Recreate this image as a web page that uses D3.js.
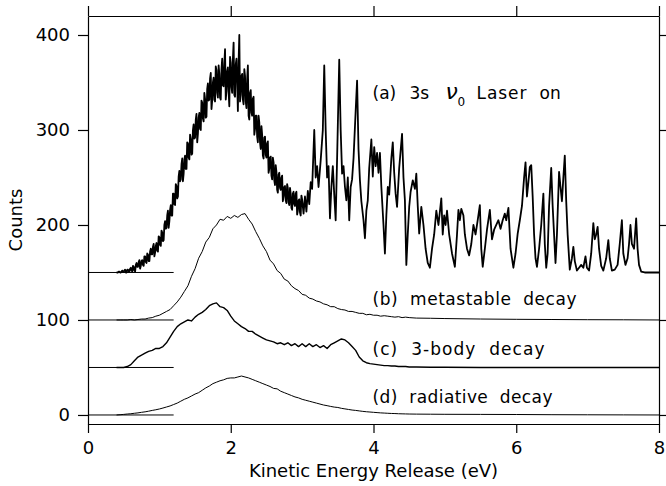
<!DOCTYPE html>
<html lang="en">
<head>
<meta charset="UTF-8" />
<script src="https://d3js.org/d3.v7.min.js"></script>
<style>
  body { margin: 0; background: #fff; }
  svg text { font-family: "DejaVu Sans", sans-serif; fill: #000; }
</style>
<title>Kinetic Energy Release</title>
</head>
<body>
<svg id="ker"></svg>
<script>
// ---- data ----
const xTicks = [0, 2, 4, 6, 8];
const yTicks = [0, 100, 200, 300, 400];

// offsets of the four traces
const offsets = { a: 150, b: 100, c: 50, d: 0 };
const baseEnd = 1.2; // short reference baseline drawn under each trace

// (a) noisy rise, 0.01 eV bins from 0.40 to 2.99 (even / odd bins)
const aBandStart = 0.40, aBandStep = 0.02;
const aBandEven = [
  150,150,151,150,152,151,153,150,153,151,
  155,151,156,151,160,156,163,157,163,157,
  167,160,169,162,175,169,180,171,181,172,
  187,178,192,184,204,197,215,204,221,210,
  233,221,241,230,257,248,270,254,273,259,
  286,269,291,275,306,292,317,296,318,300,
  329,309,333,314,349,332,360,331,355,330,
  363,334,359,332,375,346,385,341,366,325,
  371,339,392,335,375,320,400,337,359,327,
  357,323,368,311,342,315,335,301,315,287,
  308,280,295,270,293,271,288,259,272,248,
  266,242,256,234,255,237,252,230,241,223,
  239,221,233,216,235,220,235,215,227,210
];
const aBandOdd = [
  150,151,150,151,151,152,150,153,151,154,
  152,157,152,158,156,161,154,162,158,167,
  161,170,162,172,169,177,167,178,173,188,
  179,194,183,200,196,210,197,216,210,233,
  222,243,228,251,246,264,246,269,259,287,
  271,295,274,300,291,311,287,313,301,331,
  312,339,313,343,331,354,322,350,332,367,
  339,368,334,364,347,370,332,362,340,377,
  345,375,337,369,350,372,330,357,332,364,
  330,354,315,339,318,333,295,315,293,315,
  287,304,273,292,274,286,255,271,252,271,
  247,263,237,253,239,250,225,240,226,243,
  224,239,218,233,222,233,211,226,213,231
];
// (a) resolved structure above 3 eV
const aPeakEnergy = [
  3.00,3.02,3.04,3.06,3.08,3.10,3.12,3.14,3.17,3.19,3.21,3.23,3.26,3.29,3.31,3.33,3.35,3.37,3.39,3.41,
  3.43,3.45,3.47,3.49,3.52,3.54,3.56,3.58,3.60,3.62,3.64,3.66,3.68,3.70,3.72,3.75,3.77,3.79,3.81,3.83,
  3.86,3.88,3.90,3.92,3.94,3.97,3.99,4.01,4.03,4.05,4.07,4.09,4.11,4.14,4.16,4.18,4.20,4.22,4.25,4.27,
  4.29,4.31,4.33,4.36,4.40,4.42,4.44,4.46,4.48,4.50,4.52,4.55,4.58,4.60,4.62,4.64,4.67,4.70,4.73,4.76,
  4.79,4.82,4.85,4.88,4.91,4.95,4.97,4.99,5.01,5.03,5.06,5.10,5.14,5.17,5.19,5.21,5.23,5.26,5.28,5.31,
  5.34,5.37,5.40,5.43,5.46,5.49,5.51,5.53,5.56,5.59,5.63,5.66,5.69,5.72,5.75,5.78,5.81,5.84,5.86,5.89,
  5.92,5.96,5.99,6.02,6.05,6.08,6.11,6.13,6.15,6.17,6.19,6.21,6.23,6.25,6.27,6.29,6.32,6.35,6.38,6.40,
  6.42,6.44,6.46,6.49,6.51,6.53,6.55,6.57,6.60,6.62,6.64,6.66,6.68,6.70,6.72,6.75,6.78,6.80,6.82,6.85,
  6.88,6.91,6.94,6.97,6.99,7.02,7.05,7.08,7.10,7.12,7.14,7.16,7.19,7.22,7.26,7.29,7.31,7.34,7.38,7.42,
  7.45,7.48,7.50,7.53,7.56,7.58,7.60,7.62,7.65,7.68,7.70,7.72,7.75,7.80,8.00
];
const aPeakCounts = [
  227,212,230,214,236,222,245,238,300,250,262,240,268,300,368,300,250,262,207,240,
  262,232,205,270,374,300,254,262,240,226,250,205,240,248,270,320,352,280,247,225,
  205,186,215,226,260,290,251,282,262,276,255,276,240,200,170,210,240,232,270,287,
  255,233,219,260,296,250,226,158,190,219,235,247,238,254,220,191,219,200,175,160,
  155,175,190,215,200,228,190,210,200,215,190,170,156,190,216,205,217,210,190,175,
  168,180,200,190,205,221,175,156,175,195,216,185,195,200,205,196,205,212,205,218,
  175,155,170,191,205,220,250,266,230,245,261,263,230,190,165,156,175,200,233,180,
  155,170,220,260,220,190,160,190,256,240,225,250,273,225,190,153,165,177,162,152,
  155,158,155,167,155,152,170,202,185,190,198,175,157,152,165,184,165,152,153,158,
  180,205,170,158,165,180,200,180,175,207,175,158,151,150,150
];

// (b), (c), (d): energies 0.40 .. 4.50 in 0.05 eV bins, then a sparse tail
const fineStart = 0.40, fineStep = 0.05;
const tailEnergy = [4.6, 4.8, 5.0, 5.5, 6.0, 6.5, 7.0, 7.5, 8.0];

const bCounts = [
  100,100,100,100,100.5,100,100.5,101,101,102,
  102.5,104,105,107,109,111,115,119,124,130,
  136,146,154,165,172,182,187,196,200,206,
  205,209,207,210,208,211,212,206,201,193,
  186,178,172,163,159,152,149,143,141,136,
  133,131,127,126,123,122,120,119,117,116,
  114,114,112,111,110.5,109,109,108,107,107,
  105.5,106,105,105,104,104.5,104,103.5,103,103.5,
  102.5,103,102.5
];
const bTail = [102, 101.8, 101.5, 101, 100.7, 100.5, 100.3, 100.2, 100];

const cCounts = [
  50,50,50,51,53,57,61,63,65,67,
  68,70,70,72,76,82,88,93,96,98,
  100,99,103,106,108,111,115,117,118,114,
  113,110,104,99,96,93,91,88,88,85,
  83,81,79,78,77,75,76,74,76,73,
  75,72,75,72,75,72,74,71,73,70,
  74,76,78,80,79,76,72,68,61,57,
  55,54,53.5,53,52.5,52,52,51.5,51.5,51,
  51,51,50.5
];
const cTail = [50.5, 50.3, 50.2, 50, 50, 50, 50, 50, 50];

const dCounts = [
  0,0.3,0.6,1,1.3,1.8,2.2,2.8,3.3,4,
  4.8,5.5,6.3,7.3,8.4,9.5,11,12.5,14.5,16.5,
  18,20,22,23.5,26,28.5,30.5,33,34.5,36,
  37,38.5,39,39,40,41,40,39,37.5,36,
  34.5,33,31.5,30,28,27.5,25,23.5,22,20.5,
  19,18,16.5,15.5,14.5,13.5,12.5,11.5,10.5,9.8,
  9,8.3,7.9,7,6.4,5.8,5.2,4.8,4.3,3.8,
  3.4,3.1,2.8,2.5,2.2,2,1.8,1.6,1.5,1.3,
  1.2,1.1,1
];
const dTail = [0.9, 0.8, 0.7, 0.6, 0.5, 0.3, 0.2, 0.1, 0];

// ---- chart ----
const W = 666, H = 486;
const svg = d3.select("#ker").attr("width", W).attr("height", H);
svg.append("rect").attr("width", W).attr("height", H).attr("fill", "#fff");

const x = d3.scaleLinear().domain([0, 8]).range([88, 659]);
const y = d3.scaleLinear().domain([-9.5, 420]).range([424, 16]);

const line = d3.line().x(d => x(d[0])).y(d => y(d[1]));

const fineSeries = (vals, tail) =>
  vals.map((v, i) => [fineStart + i * fineStep, v])
    .concat(tail.map((v, i) => [tailEnergy[i], v]));

const aSeries = [];
aBandEven.forEach((v, i) => {
  const e = aBandStart + i * aBandStep;
  aSeries.push([e, v]);
  aSeries.push([e + aBandStep / 2, aBandOdd[i]]);
});
aPeakEnergy.forEach((e, i) => aSeries.push([e, aPeakCounts[i]]));

// short baselines
Object.values(offsets).forEach(o => {
  svg.append("line")
    .attr("x1", x(0)).attr("x2", x(baseEnd))
    .attr("y1", y(o)).attr("y2", y(o))
    .attr("stroke", "#000").attr("stroke-width", 1);
});

const traces = [
  { data: fineSeries(dCounts, dTail), w: 1 },
  { data: fineSeries(cCounts, cTail), w: 1.4 },
  { data: fineSeries(bCounts, bTail), w: 1 },
  { data: aSeries, w: 1.8 }
];
traces.forEach(t => {
  svg.append("path").datum(t.data)
    .attr("d", line)
    .attr("fill", "none")
    .attr("stroke", "#000")
    .attr("stroke-width", t.w)
    .attr("stroke-linejoin", "round");
});

// frame + axes
const styleAxis = g => {
  g.selectAll("path.domain").attr("stroke", "#000").attr("stroke-width", 1.2);
  g.selectAll(".tick line").attr("stroke", "#000").attr("stroke-width", 1.2);
  g.selectAll(".tick text").style("font-size", "18px").attr("fill", "#000");
};

svg.append("g").attr("transform", "translate(0,424)")
  .call(d3.axisBottom(x).tickValues(xTicks).tickSize(9).tickSizeOuter(0).tickPadding(8))
  .call(styleAxis);
svg.append("g").attr("transform", "translate(0,16)")
  .call(d3.axisTop(x).tickValues(xTicks).tickSize(10).tickSizeOuter(0).tickFormat(""))
  .call(styleAxis);
svg.append("g").attr("transform", "translate(88,0)")
  .call(d3.axisLeft(y).tickValues(yTicks).tickSize(10).tickSizeOuter(0).tickPadding(8))
  .call(styleAxis);
svg.append("g").attr("transform", "translate(659,0)")
  .call(d3.axisRight(y).tickValues(yTicks).tickSize(10).tickSizeOuter(0).tickFormat(""))
  .call(styleAxis);

// axis titles
svg.append("text")
  .attr("x", (x(0) + x(8)) / 2).attr("y", 477)
  .attr("text-anchor", "middle")
  .style("font-size", "18px")
  .text("Kinetic Energy Release (eV)");
svg.append("text")
  .attr("transform", `translate(22,${(y(-9.5) + y(420)) / 2}) rotate(-90)`)
  .attr("text-anchor", "middle")
  .style("font-size", "18px")
  .text("Counts");

// trace labels
const lx = x(4) - 1;
const la = svg.append("text").attr("y", y(333)).style("font-size", "17px");
la.append("tspan").attr("x", lx).text("(a)");
la.append("tspan").attr("x", lx + 37).text("3s");
la.append("tspan").attr("x", lx + 73).style("font-style", "italic").style("font-size", "22px").text("\u03bd");
la.append("tspan").attr("x", lx + 85).attr("dy", 7).style("font-size", "12px").text("0");
la.append("tspan").attr("x", lx + 104).attr("dy", -7).attr("textLength", 50).text("Laser");
la.append("tspan").attr("x", lx + 167).text("on");

const labels = [
  { t: "(b)  metastable  decay", v: 116, len: 204 },
  { t: "(c)  3-body  decay", v: 63, len: 172 },
  { t: "(d)  radiative  decay", v: 12.6, len: 180 }
];
labels.forEach(l => {
  svg.append("text")
    .attr("x", lx).attr("y", y(l.v))
    .attr("textLength", l.len).attr("lengthAdjust", "spacing")
    .attr("xml:space", "preserve")
    .style("font-size", "17px")
    .text(l.t);
});
</script>
</body>
</html>
